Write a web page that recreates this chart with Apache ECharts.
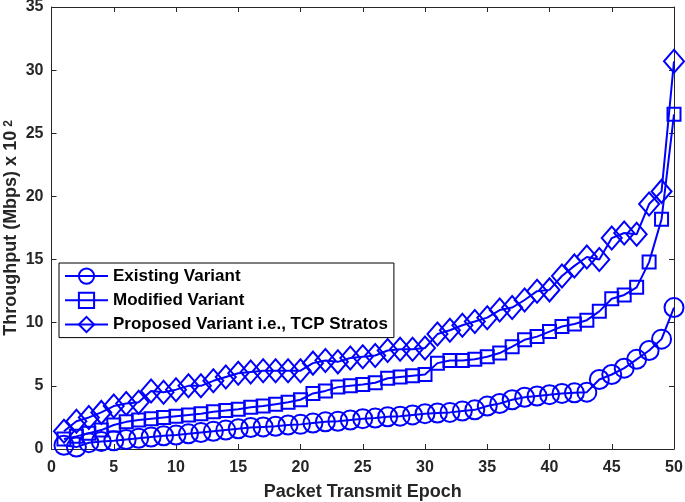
<!DOCTYPE html>
<html>
<head>
<meta charset="utf-8">
<script src="https://cdn.jsdelivr.net/npm/echarts@6/dist/echarts.min.js"></script>
<style>
html,body{margin:0;padding:0;background:#fff;}
#chart{width:685px;height:502px;}
</style>
</head>
<body>
<div id="chart"></div>
<script>
var epochs = [1,2,3,4,5,6,7,8,9,10,11,12,13,14,15,16,17,18,19,20,21,22,23,24,25,26,27,28,29,30,31,32,33,34,35,36,37,38,39,40,41,42,43,44,45,46,47,48,49,50];
var existing = [0.3,0.15,0.5,0.6,0.65,0.75,0.85,0.95,1.05,1.1,1.2,1.3,1.4,1.5,1.6,1.7,1.75,1.8,1.9,1.95,2.05,2.15,2.2,2.3,2.4,2.45,2.55,2.6,2.7,2.8,2.85,2.9,3.0,3.1,3.4,3.6,3.9,4.1,4.2,4.3,4.4,4.45,4.5,5.5,5.9,6.4,7.1,7.8,8.7,11.2];
var modified = [0.8,1.0,1.25,1.5,1.9,2.15,2.3,2.4,2.5,2.6,2.7,2.8,2.95,3.05,3.15,3.3,3.4,3.55,3.7,3.9,4.4,4.6,4.9,5.0,5.1,5.25,5.6,5.7,5.8,5.9,6.8,7.0,7.0,7.1,7.3,7.6,8.1,8.65,8.9,9.3,9.7,9.9,10.2,10.9,11.9,12.2,12.8,14.8,18.2,26.5];
var proposed = [1.4,2.2,2.5,2.9,3.4,3.6,3.7,4.6,4.5,4.7,5.0,5.0,5.4,5.7,6.0,6.1,6.2,6.2,6.2,6.2,6.8,7.0,6.9,7.2,7.3,7.4,7.8,7.9,7.9,8.0,9.1,9.4,9.8,10.1,10.4,11.0,11.2,11.8,12.5,12.6,13.7,14.5,15.2,15.0,16.7,17.1,17.0,19.4,20.4,30.7];
var seriesNames = ['Existing Variant','Modified Variant','Proposed Variant i.e., TCP Stratos'];
var xTicks = {min:0, max:50, interval:5};
var yTicks = {min:0, max:35, interval:5};

function pairs(vals){ return epochs.map(function(e,i){ return [e, vals[i]]; }); }

var BLUE = '#0000ff';
var AX = '#262626';
var FONT = '"Liberation Sans", Arial, sans-serif';

function mkSeries(name, vals, symbol, size){
  return {
    name: name, type: 'line', data: pairs(vals),
    symbol: symbol, symbolSize: size, showAllSymbol: true, clip: false,
    lineStyle: {color: BLUE, width: 2},
    itemStyle: {color: 'none', borderColor: BLUE, borderWidth: 2},
    emphasis: {disabled: true},
    animation: false, z: 3
  };
}

var tickCommon = {show:true, inside:true, length:5, lineStyle:{color:AX, width:1}};
var chart = echarts.init(document.getElementById('chart'), null, {renderer:'canvas'});
chart.setOption({
  animation: false,
  backgroundColor: '#fff',
  grid: {left: 51.5, right: 11, top: 7, bottom: 53, containLabel: false, outerBoundsMode: 'none'},
  legend: {
    show: true, orient: 'vertical', left: 59, top: 263,
    data: seriesNames,
    itemWidth: 43, itemHeight: 19, itemGap: 4,
    padding: [3, 6, 3, 5],
    borderColor: '#000', borderWidth: 1, backgroundColor: '#fff',
    textStyle: {fontFamily: FONT, fontWeight: 'bold', fontSize: 17, color: '#000'},
    z: 10
  },
  xAxis: [{
    type: 'value', min: xTicks.min, max: xTicks.max, interval: xTicks.interval,
    name: 'Packet Transmit Epoch', nameLocation: 'middle', nameGap: 34, nameMoveOverlap: false,
    nameTextStyle: {fontFamily: FONT, fontWeight: 'bold', fontSize: 18, color: AX},
    axisLine: {show: true, onZero: false, lineStyle: {color: AX, width: 1}},
    axisTick: tickCommon,
    axisLabel: {fontFamily: FONT, fontWeight: 'bold', fontSize: 16, color: AX, margin: 11},
    splitLine: {show: false}
  },{
    type: 'value', position: 'top', min: xTicks.min, max: xTicks.max, interval: xTicks.interval,
    axisLine: {show: true, onZero: false, lineStyle: {color: AX, width: 1}},
    axisTick: tickCommon, axisLabel: {show: false}, splitLine: {show: false}
  }],
  yAxis: [{
    type: 'value', min: yTicks.min, max: yTicks.max, interval: yTicks.interval,
    name: 'Throughput (Mbps) x 10{sup|2}', nameLocation: 'middle', nameGap: 31, nameMoveOverlap: false,
    nameTextStyle: {fontFamily: FONT, fontWeight: 'bold', fontSize: 18, color: AX,
      rich: {sup: {fontFamily: FONT, fontWeight: 'bold', fontSize: 12, color: AX, verticalAlign: 'top', padding: [0,0,0,4]}}},
    axisLine: {show: true, onZero: false, lineStyle: {color: AX, width: 1}},
    axisTick: tickCommon,
    axisLabel: {fontFamily: FONT, fontWeight: 'bold', fontSize: 16, color: AX, margin: 8},
    splitLine: {show: false}
  },{
    type: 'value', position: 'right', min: yTicks.min, max: yTicks.max, interval: yTicks.interval,
    axisLine: {show: true, onZero: false, lineStyle: {color: AX, width: 1}},
    axisTick: tickCommon, axisLabel: {show: false}, splitLine: {show: false}
  }],
  series: [
    mkSeries(seriesNames[0], existing, 'circle', 19),
    mkSeries(seriesNames[1], modified, 'rect', 13),
    mkSeries(seriesNames[2], proposed, 'diamond', [20, 23])
  ]
});
</script>
</body>
</html>
